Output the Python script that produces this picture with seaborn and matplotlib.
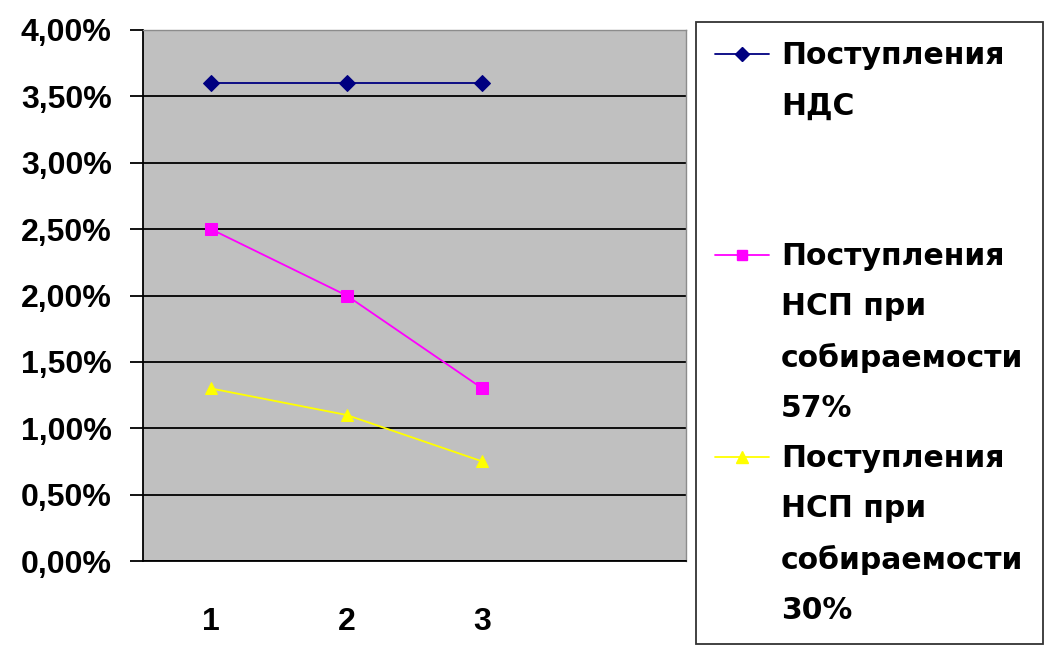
import pandas as pd
import matplotlib
matplotlib.use("Agg")
import matplotlib.pyplot as plt
import seaborn as sns
from matplotlib.lines import Line2D

# data (percent)
periods = [1, 2, 3]
nds = [3.6, 3.6, 3.6]
nsp_57 = [2.5, 2.0, 1.3]
nsp_30 = [1.3, 1.1, 0.75]
series_names = [
    "Поступления НДС",
    "Поступления НСП при собираемости 57%",
    "Поступления НСП при собираемости 30%",
]
legend_lines = [
    ["Поступления", "НДС", " ", " "],
    ["Поступления", "НСП при", "собираемости", "57%"],
    ["Поступления", "НСП при", "собираемости", "30%"],
]
y_ticks = [0.0, 0.5, 1.0, 1.5, 2.0, 2.5, 3.0, 3.5, 4.0]
y_labels = ["0,00%", "0,50%", "1,00%", "1,50%", "2,00%", "2,50%", "3,00%", "3,50%", "4,00%"]
x_labels = ["1", "2", "3"]

colors = ["#000080", "#FF00FF", "#FFFF00"]
markers = ["D", "s", "^"]
msizes = [8, 8.5, 9]

df = pd.DataFrame({
    "period": periods * 3,
    "value": nds + nsp_57 + nsp_30,
    "series": [series_names[0]] * 3 + [series_names[1]] * 3 + [series_names[2]] * 3,
})

sns.set_style("white")
plt.rcParams["font.family"] = ["Liberation Sans", "DejaVu Sans"]
plt.rcParams["font.weight"] = "bold"
plt.rcParams["text.color"] = "black"
plt.rcParams["xtick.color"] = "black"
plt.rcParams["ytick.color"] = "black"

fig = plt.figure(figsize=(10.44, 6.53), dpi=100)
ax = fig.add_axes([143 / 1044, 1 - 561 / 653, (686 - 143) / 1044, (561 - 30) / 653])
ax.set_facecolor("#C0C0C0")

for i, name in enumerate(series_names):
    sub = df[df["series"] == name]
    sns.lineplot(data=sub, x="period", y="value", ax=ax, color=colors[i],
                 marker=markers[i], markersize=msizes[i], markeredgecolor=colors[i],
                 linewidth=1.3, legend=False, zorder=3)

ax.set_xlim(0.5, 4.5)
ax.set_ylim(0, 4)
ax.set_yticks(y_ticks)
ax.set_yticklabels(y_labels, fontsize=23, fontweight="bold", color="black")
ax.set_xticks(periods)
ax.set_xticklabels(x_labels, fontsize=23, fontweight="bold", color="black")
ax.set_xticks([0.5, 1.5, 2.5, 3.5, 4.5], minor=True)
ax.tick_params(axis="x", which="major", length=0, pad=33)
ax.tick_params(axis="x", which="minor", length=9, width=1.3, color="black", direction="out")
ax.tick_params(axis="y", length=9.5, width=1.3, color="black", direction="out", pad=13, left=True)
ax.set_xlabel("")
ax.set_ylabel("")
ax.grid(axis="y", color="black", linewidth=1.3)
ax.grid(axis="x", visible=False)
ax.set_axisbelow(True)
for s in ["left", "bottom"]:
    ax.spines[s].set_color("black")
    ax.spines[s].set_linewidth(1.3)
for s in ["top", "right"]:
    ax.spines[s].set_color("#8C8C8C")
    ax.spines[s].set_linewidth(1.0)

# legend: one row per text line, handle on the first line of each entry
handles = []
labels = []
blank = Line2D([], [], linestyle="none")
for i, lines in enumerate(legend_lines):
    handles.append(Line2D([], [], color=colors[i], marker=markers[i],
                          markersize=msizes[i] - 1, linewidth=1.3))
    labels.append(lines[0])
    for ln in lines[1:]:
        handles.append(blank)
        labels.append(ln)

leg = fig.legend(handles, labels, loc="upper left",
                 bbox_to_anchor=(696 / 1044, 1 - 22 / 653),
                 prop={"family": "DejaVu Sans", "weight": "bold", "size": 21.5},
                 frameon=True, fancybox=False, edgecolor="black",
                 borderpad=0.65, labelspacing=0.71, handlelength=1.8,
                 handletextpad=0.4, borderaxespad=0)
leg.get_frame().set_linewidth(1.3)
for t in leg.get_texts():
    t.set_color("black")

fig.savefig("out.png", dpi=100)
